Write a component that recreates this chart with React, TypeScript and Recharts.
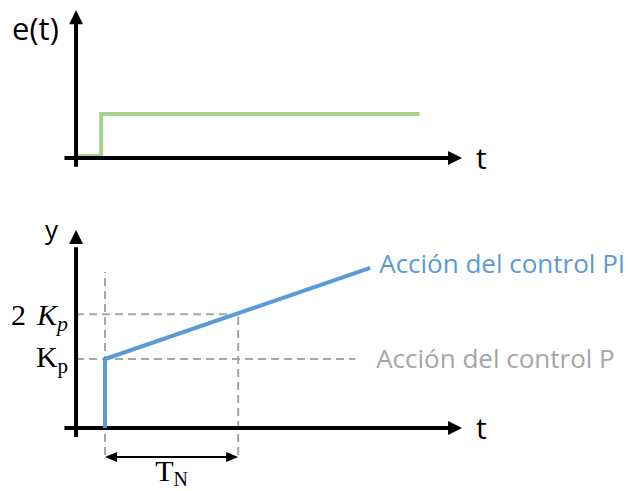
import { ComposedChart, Line, XAxis, YAxis, ReferenceLine, ReferenceDot } from 'recharts';

// step input e(t)
const stepInput = [
  { t: 0.05, v: 0.045 },
  { t: 0.65, v: 0.045 },
  { t: 0.65, v: 1 },
  { t: 8.9, v: 1 },
];

// PI controller output
const piAction = [
  { t: 0.75, v: 0 },
  { t: 0.75, v: 1 },
  { t: 7.62, v: 2.32 },
];

const tStart = 0.75;
const tN = 4.2;
const kp = 1;
const kp2 = 1.65;
const pLineEnd = 7.23;

const X_DOMAIN = [-1.97, 14.35];
const TOP_DOMAIN = [-0.955, 3.591];
const BOTTOM_DOMAIN = [-0.913, 3.304];

const GREEN = '#a9d18e';
const BLUE = '#5b9bd5';
const GRAY = '#a6a6a6';
const SANS = '"Open Sans", sans-serif';
const SERIF = '"Liberation Serif", serif';

const arrowRight = (len: number, half: number) => (p: any) => (
  <path d={`M ${p.cx} ${p.cy} L ${p.cx - len} ${p.cy - half} L ${p.cx - len} ${p.cy + half} Z`} fill="#000" />
);
const arrowLeft = (len: number, half: number) => (p: any) => (
  <path d={`M ${p.cx} ${p.cy} L ${p.cx + len} ${p.cy - half} L ${p.cx + len} ${p.cy + half} Z`} fill="#000" />
);
const arrowUp = (len: number, half: number) => (p: any) => (
  <path d={`M ${p.cx} ${p.cy} L ${p.cx - half} ${p.cy + len} L ${p.cx + half} ${p.cy + len} Z`} fill="#000" />
);

const label = (content: any, dx: number, dy: number, style: any, anchor = 'start') => (p: any) => (
  <text x={p.cx + dx} y={p.cy + dy} textAnchor={anchor} {...style}>
    {content}
  </text>
);

export default function App() {
  return (
    <div style={{ position: 'fixed', top: 0, left: 0, width: 630, height: 491, background: '#fff', overflow: 'hidden' }}>
      <ComposedChart width={630} height={200} margin={{ top: 0, right: 0, bottom: 0, left: 0 }}>
        <XAxis type="number" dataKey="t" domain={X_DOMAIN} allowDataOverflow hide />
        <YAxis type="number" dataKey="v" domain={TOP_DOMAIN} allowDataOverflow hide />
        <Line
          data={stepInput}
          dataKey="v"
          type="linear"
          stroke={GREEN}
          strokeWidth={4}
          dot={false}
          activeDot={false}
          isAnimationActive={false}
        />
        <ReferenceLine segment={[{ x: -0.3, y: 0 }, { x: 9.7, y: 0 }]} stroke="#000" strokeWidth={4} />
        <ReferenceLine segment={[{ x: 0, y: -0.2 }, { x: 0, y: 3.05 }]} stroke="#000" strokeWidth={4} />
        <ReferenceDot x={10} y={0} r={0} shape={arrowRight(14, 7)} />
        <ReferenceDot x={0} y={3.36} r={0} shape={arrowUp(14, 7)} />
        <ReferenceDot x={0} y={3.36} r={0} shape={label('e(t)', -64, 30, { fontFamily: SANS, fontSize: 31, fill: '#000' })} />
        <ReferenceDot x={10} y={0} r={0} shape={label('t', 14, 11, { fontFamily: SANS, fontSize: 30, fill: '#000' })} />
      </ComposedChart>
      <ComposedChart width={630} height={291} margin={{ top: 0, right: 0, bottom: 0, left: 0 }}>
        <XAxis type="number" dataKey="t" domain={X_DOMAIN} allowDataOverflow hide />
        <YAxis type="number" dataKey="v" domain={BOTTOM_DOMAIN} allowDataOverflow hide />
        <ReferenceLine segment={[{ x: tStart, y: -0.39 }, { x: tStart, y: 2.26 }]} stroke={GRAY} strokeWidth={2} strokeDasharray="8 5" />
        <ReferenceLine segment={[{ x: tN, y: -0.39 }, { x: tN, y: kp2 }]} stroke={GRAY} strokeWidth={2} strokeDasharray="8 5" />
        <ReferenceLine segment={[{ x: 0, y: kp2 }, { x: tN, y: kp2 }]} stroke={GRAY} strokeWidth={2} strokeDasharray="8 5" />
        <ReferenceLine segment={[{ x: 0, y: kp }, { x: pLineEnd, y: kp }]} stroke={GRAY} strokeWidth={2} strokeDasharray="8 5" />
        <ReferenceLine segment={[{ x: -0.3, y: 0 }, { x: 9.7, y: 0 }]} stroke="#000" strokeWidth={4} />
        <ReferenceLine segment={[{ x: 0, y: -0.13 }, { x: 0, y: 2.62 }]} stroke="#000" strokeWidth={4} />
        <Line
          data={piAction}
          dataKey="v"
          type="linear"
          stroke={BLUE}
          strokeWidth={4}
          dot={false}
          activeDot={false}
          isAnimationActive={false}
        />
        <ReferenceDot x={10} y={0} r={0} shape={arrowRight(14, 7)} />
        <ReferenceDot x={0} y={2.87} r={0} shape={arrowUp(14, 7)} />
        <ReferenceLine segment={[{ x: tStart + 0.2, y: -0.42 }, { x: tN - 0.2, y: -0.42 }]} stroke="#000" strokeWidth={2} />
        <ReferenceDot x={tStart} y={-0.42} r={0} shape={arrowLeft(12, 5)} />
        <ReferenceDot x={tN} y={-0.42} r={0} shape={arrowRight(12, 5)} />
        <ReferenceDot x={0} y={2.87} r={0} shape={label('y', -31, 9, { fontFamily: SANS, fontSize: 26, fill: '#000' })} />
        <ReferenceDot x={10} y={0} r={0} shape={label('t', 14, 11, { fontFamily: SANS, fontSize: 30, fill: '#000' })} />
        <ReferenceDot
          x={7.62}
          y={2.32}
          r={0}
          shape={label('Acción del control PI', 9, 5, { fontFamily: SANS, fontSize: 26, fill: BLUE })}
        />
        <ReferenceDot
          x={pLineEnd}
          y={kp}
          r={0}
          shape={label('Acción del control P', 21, 9, { fontFamily: SANS, fontSize: 26, fill: GRAY })}
        />
        <ReferenceDot
          x={0}
          y={kp}
          r={0}
          shape={label(
            <>
              K<tspan fontSize={21} dy={6}>p</tspan>
            </>,
            -8, 8, { fontFamily: SERIF, fontSize: 30, fill: '#000' }, 'end'
          )}
        />
        <ReferenceDot
          x={0}
          y={kp2}
          r={0}
          shape={label(
            <>
              2<tspan fontStyle="italic" dx={11}>K</tspan>
              <tspan fontStyle="italic" fontSize={22} dy={6}>p</tspan>
            </>,
            -8, 11, { fontFamily: SERIF, fontSize: 30, fill: '#000' }, 'end'
          )}
        />
        <ReferenceDot
          x={(tStart + tN) / 2}
          y={-0.42}
          r={0}
          shape={label(
            <>
              T<tspan fontSize={20} dy={5}>N</tspan>
            </>,
            0, 24, { fontFamily: SERIF, fontSize: 30, fill: '#000' }, 'middle'
          )}
        />
      </ComposedChart>
    </div>
  );
}
